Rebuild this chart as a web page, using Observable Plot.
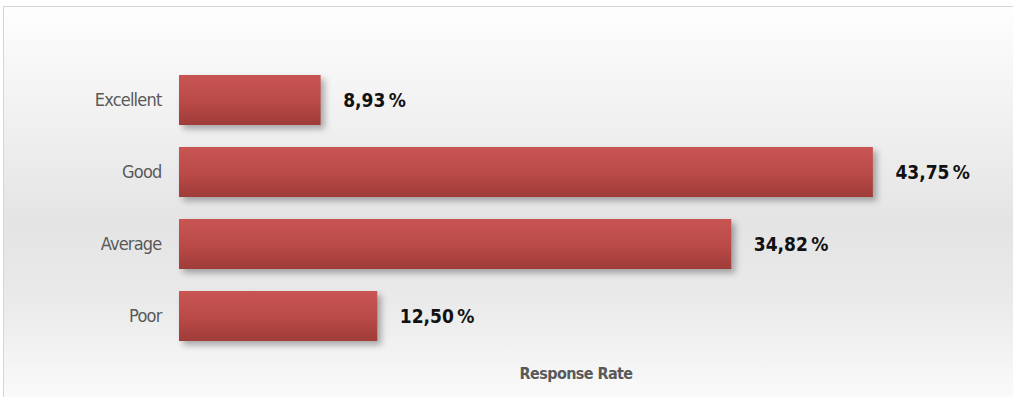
<!DOCTYPE html>
<html>
<head>
<meta charset="utf-8">
<script src="https://cdn.jsdelivr.net/npm/d3@7"></script>
<script src="https://cdn.jsdelivr.net/npm/@observablehq/plot@0.6"></script>
<style>
  html, body { margin: 0; padding: 0; background: #ffffff; }
  #frame {
    position: absolute; left: 3px; top: 6px; width: 1012px; height: 395px;
    border-top: 1px solid #d4d4d4; border-left: 1px solid #d4d4d4;
    background: linear-gradient(to bottom, #fefefe 0%, #f2f2f2 25%, #e4e4e4 55%, #eaeaea 75%, #fbfbfb 100%);
  }
  #chart { position: absolute; left: 0; top: 0; }
  #chart g[aria-label="bar"] rect { filter: drop-shadow(4px 4px 3px rgba(0,0,0,0.30)); }
  #chart g[aria-label="y-axis tick label"] text { letter-spacing: -0.8px; }
</style>
</head>
<body>
<div id="frame"></div>
<div id="chart"></div>
<script>
const categories = ["Excellent", "Good", "Average", "Poor"];
const values = [8.93, 43.75, 34.82, 12.50];
const valueLabels = ["8,93\u202F%", "43,75\u202F%", "34,82\u202F%", "12,50\u202F%"];
const axisTitle = "Response Rate";

const data = categories.map((c, i) => ({category: c, value: values[i], label: valueLabels[i]}));

const plot = Plot.plot({
  width: 1013,
  height: 397,
  marginLeft: 179,
  marginRight: 41,
  marginTop: 53,
  marginBottom: 34,
  style: {background: "transparent", fontFamily: "'DejaVu Sans Condensed', 'DejaVu Sans', sans-serif"},
  x: {domain: [0, 50], axis: null},
  y: {domain: categories, padding: 0.3, label: null},
  marks: [
    Plot.axisY({tickSize: 0, tickPadding: 18, fontSize: 18, color: "#595959", label: null}),
    Plot.barX(data, {x: "value", y: "category", fill: "url(#barGrad)"}),
    Plot.text(data, {x: "value", y: "category", text: "label", textAnchor: "start", dx: 22, fontSize: 19, fontWeight: "bold", fill: "#111111"}),
    Plot.text([axisTitle], {frameAnchor: "bottom", dy: 10, lineAnchor: "middle", fontSize: 16, fontWeight: "bold", fill: "#595959"})
  ]
});

const svg = d3.select(plot);
const defs = svg.insert("defs", ":first-child");
const g = defs.append("linearGradient").attr("id", "barGrad").attr("x1", 0).attr("y1", 0).attr("x2", 0).attr("y2", 1);
g.append("stop").attr("offset", "0%").attr("stop-color", "#c85553");
g.append("stop").attr("offset", "50%").attr("stop-color", "#bb4b48");
g.append("stop").attr("offset", "100%").attr("stop-color", "#9f3c39");

const textGroups = svg.selectAll('g[aria-label="text"]').nodes();
if (textGroups[0]) d3.select(textGroups[0]).selectAll("text").style("letter-spacing", "-1.2px");
if (textGroups[1]) d3.select(textGroups[1]).selectAll("text").style("letter-spacing", "-0.6px");

document.getElementById("chart").appendChild(plot);
</script>
</body>
</html>
